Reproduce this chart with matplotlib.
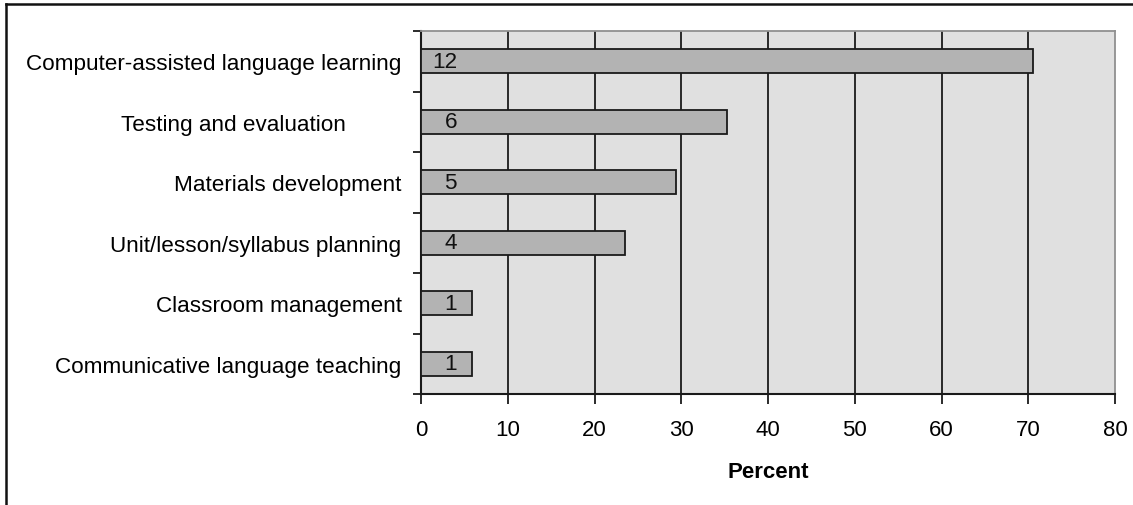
import matplotlib
matplotlib.use("Agg")
import matplotlib.pyplot as plt
from matplotlib.lines import Line2D
from matplotlib.transforms import ScaledTranslation
import numpy as np

categories = [
    "Computer-assisted language learning",
    "Testing and evaluation",
    "Materials development",
    "Unit/lesson/syllabus planning",
    "Classroom management",
    "Communicative language teaching",
]
percent = [70.6, 35.3, 29.4, 23.5, 5.9, 5.9]
counts = [12, 6, 5, 4, 1, 1]
xticks = [0, 10, 20, 30, 40, 50, 60, 70, 80]

plt.rcParams['font.family'] = ['Liberation Sans', 'DejaVu Sans']

W, H = 1133, 506
fig = plt.figure(figsize=(W / 100, H / 100), dpi=100)
fig.patch.set_facecolor('white')

x0, x1, ytop, ybot = 421, 1115, 32, 395
ax = fig.add_axes([x0 / W, 1 - ybot / H, (x1 - x0) / W, (ybot - ytop) / H])
ax.set_facecolor('#e0e0e0')

y = np.arange(len(categories))
ax.barh(y, percent, height=0.39, color='#b3b3b3', edgecolor='#1a1a1a',
        linewidth=1.3, zorder=3)
for yi, c in zip(y, counts):
    ax.text(4.15, yi, str(c), ha='right', va='center', fontsize=16.2,
            color='#111111', zorder=4)

ax.set_xlim(0, 80)
ax.set_ylim(len(categories) - 0.5, -0.5)
ax.set_xticks(xticks)
ax.set_xticklabels([str(t) for t in xticks], fontsize=16)
ax.set_yticks(y)
ax.set_yticklabels(categories, fontsize=16.2)
ax.set_yticks(np.arange(-0.5, len(categories)), minor=True)
ax.tick_params(axis='y', which='major', length=0, pad=14)
ax.tick_params(axis='y', which='minor', length=6, width=1.3, color='#1a1a1a', direction='out')
ax.tick_params(axis='x', which='major', length=7, width=1.3, color='#1a1a1a',
               direction='out', pad=11)

# the second label in the original sits further left (trailing spacing)
lbl = ax.get_yticklabels()[1]
lbl.set_transform(lbl.get_transform() + ScaledTranslation(-0.56, 0, fig.dpi_scale_trans))

for t in xticks[1:-1]:
    ax.axvline(t, color='#1a1a1a', linewidth=1.3, zorder=2)

for s in ['left', 'bottom']:
    ax.spines[s].set_color('#1a1a1a')
    ax.spines[s].set_linewidth(1.5)
for s in ['top', 'right']:
    ax.spines[s].set_color('#909090')
    ax.spines[s].set_linewidth(1.3)

ax.set_xlabel('Percent', fontsize=16, fontweight='bold', labelpad=15)

# outer frame (top and left edges)
fig.add_artist(Line2D([6 / W, 1], [1 - 5 / H, 1 - 5 / H], transform=fig.transFigure,
                      color='#111111', linewidth=1.8))
fig.add_artist(Line2D([6 / W, 6 / W], [0, 1 - 5 / H], transform=fig.transFigure,
                      color='#111111', linewidth=1.8))

fig.savefig('out.png', dpi=100, facecolor='white')
